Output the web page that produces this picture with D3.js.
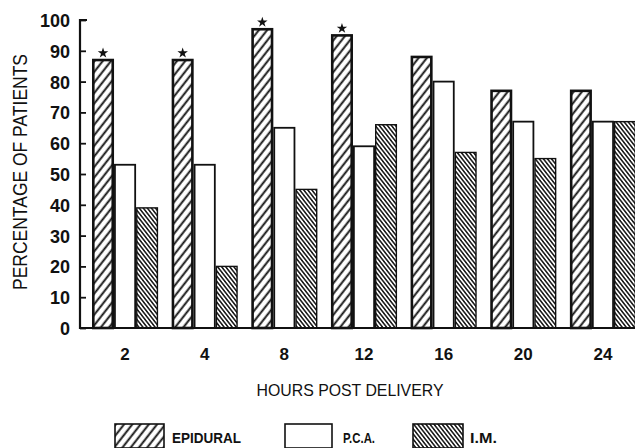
<!DOCTYPE html>
<html><head><meta charset="utf-8">
<script src="https://cdn.jsdelivr.net/npm/d3@7"></script>
<style>html,body{margin:0;padding:0;background:#fff}svg{display:block}</style>
</head><body>
<svg id="c" width="635" height="448"></svg>
<script>
const categories = ["2","4","8","12","16","20","24"];
const epidural = [87, 87, 97, 95, 88, 77, 77];
const pca      = [53, 53, 65, 59, 80, 67, 67];
const im       = [39, 20, 45, 66, 57, 55, 67];
const starred  = ["2","4","8","12"];
const yTicks   = [0,10,20,30,40,50,60,70,80,90,100];
const seriesNames = ["EPIDURAL","P.C.A.","I.M."];

const svg = d3.select("#c");
const font = "'Liberation Sans', Arial, sans-serif";

const defs = svg.append("defs");
const p1 = defs.append("pattern").attr("id","hatchEpi").attr("patternUnits","userSpaceOnUse")
  .attr("width",6.5).attr("height",6.5).attr("patternTransform","rotate(38)");
p1.append("rect").attr("width",6.5).attr("height",6.5).attr("fill","#fff");
p1.append("line").attr("x1",1.5).attr("y1",0).attr("x2",1.5).attr("y2",6.5).attr("stroke","#111").attr("stroke-width",1.9);
const p2 = defs.append("pattern").attr("id","hatchIM").attr("patternUnits","userSpaceOnUse")
  .attr("width",3.2).attr("height",3.2).attr("patternTransform","rotate(-38)");
p2.append("rect").attr("width",3.2).attr("height",3.2).attr("fill","#fff");
p2.append("line").attr("x1",0.8).attr("y1",0).attr("x2",0.8).attr("y2",3.2).attr("stroke","#111").attr("stroke-width",1.5);

const x = d3.scaleBand().domain(categories).range([92, 636]).paddingInner(0.17).paddingOuter(0);
const x1 = d3.scaleBand().domain(seriesNames).range([0, x.bandwidth()]).padding(0);
const y = d3.scaleLinear().domain([0,100]).range([328, 20]);

const fills = {"EPIDURAL":"url(#hatchEpi)","P.C.A.":"#fff","I.M.":"url(#hatchIM)"};
const strokeW = {"EPIDURAL":2.6,"P.C.A.":1.8,"I.M.":1.4};
const data = [];
categories.forEach((c,i)=>{
  data.push({c, s:"EPIDURAL", v:epidural[i]});
  data.push({c, s:"P.C.A.", v:pca[i]});
  data.push({c, s:"I.M.", v:im[i]});
});
const order = ["P.C.A.","I.M.","EPIDURAL"];
svg.append("g").selectAll("rect")
  .data(data.slice().sort((a,b)=>order.indexOf(a.s)-order.indexOf(b.s)))
  .join("rect")
  .attr("x", d=>x(d.c)+x1(d.s)+strokeW[d.s]/2)
  .attr("y", d=>y(d.v))
  .attr("width", d=>x1.bandwidth()-strokeW[d.s])
  .attr("height", d=>y(0)-y(d.v))
  .attr("fill", d=>fills[d.s])
  .attr("stroke","#111")
  .attr("stroke-width", d=>strokeW[d.s]);

// stars
const star = d3.symbol().type(d3.symbolStar).size(34);
svg.append("g").selectAll("path").data(categories.filter(c=>starred.includes(c)))
  .join("path")
  .attr("d", star)
  .attr("transform", c=>`translate(${x(c)+x1("EPIDURAL")+x1.bandwidth()/2},${y(epidural[categories.indexOf(c)])-7})`)
  .attr("fill","#111");

// baseline
svg.append("line").attr("x1",80).attr("x2",635).attr("y1",y(0)).attr("y2",y(0))
  .attr("stroke","#111").attr("stroke-width",2);

// y axis
const yAxis = d3.axisLeft(y).tickValues(yTicks).tickSize(-6).tickPadding(10);
const gy = svg.append("g").attr("transform","translate(80,0)").call(yAxis);
gy.select(".domain").attr("stroke","#111").attr("stroke-width",2.2).attr("d",`M7,${y(100)}H0V${y(0)}H7`);
gy.selectAll(".tick line").attr("stroke","#111").attr("stroke-width",1.8);
gy.selectAll(".tick text").attr("font-family",font).attr("font-weight","bold").attr("font-size",18).attr("fill","#111").attr("dy","0.36em");

// x axis labels
const xAxis = d3.axisBottom(x).tickSize(0).tickPadding(20);
const gx = svg.append("g").attr("transform",`translate(0,${y(0)})`).call(xAxis);
gx.select(".domain").remove();
gx.selectAll(".tick text").attr("font-family",font).attr("font-weight","bold").attr("font-size",17).attr("fill","#111");

// axis titles
svg.append("text").attr("transform","translate(27,172) rotate(-90)")
  .attr("text-anchor","middle").attr("font-family",font).attr("font-size",20).attr("fill","#111")
  .attr("textLength",236).attr("lengthAdjust","spacingAndGlyphs")
  .text("PERCENTAGE OF PATIENTS");
svg.append("text").attr("x",350).attr("y",396)
  .attr("text-anchor","middle").attr("font-family",font).attr("font-size",17).attr("fill","#111")
  .attr("textLength",187).attr("lengthAdjust","spacingAndGlyphs")
  .text("HOURS POST DELIVERY");

// legend
const legend = [
  {s:"EPIDURAL", x:115, w:49, tx:172, tw:69},
  {s:"P.C.A.", x:285, w:47, tx:343, tw:32},
  {s:"I.M.", x:413, w:50, tx:470, tw:27}
];
const lg = svg.append("g");
lg.selectAll("rect").data(legend).join("rect")
  .attr("x",d=>d.x).attr("y",424).attr("width",d=>d.w).attr("height",24)
  .attr("fill",d=>fills[d.s]).attr("stroke","#111").attr("stroke-width",1.6);
lg.selectAll("text").data(legend).join("text")
  .attr("x",d=>d.tx).attr("y",443).attr("font-family",font).attr("font-weight","bold").attr("font-size",14).attr("fill","#111")
  .attr("textLength",d=>d.tw).attr("lengthAdjust","spacingAndGlyphs")
  .text(d=>d.s);
</script>
</body></html>
